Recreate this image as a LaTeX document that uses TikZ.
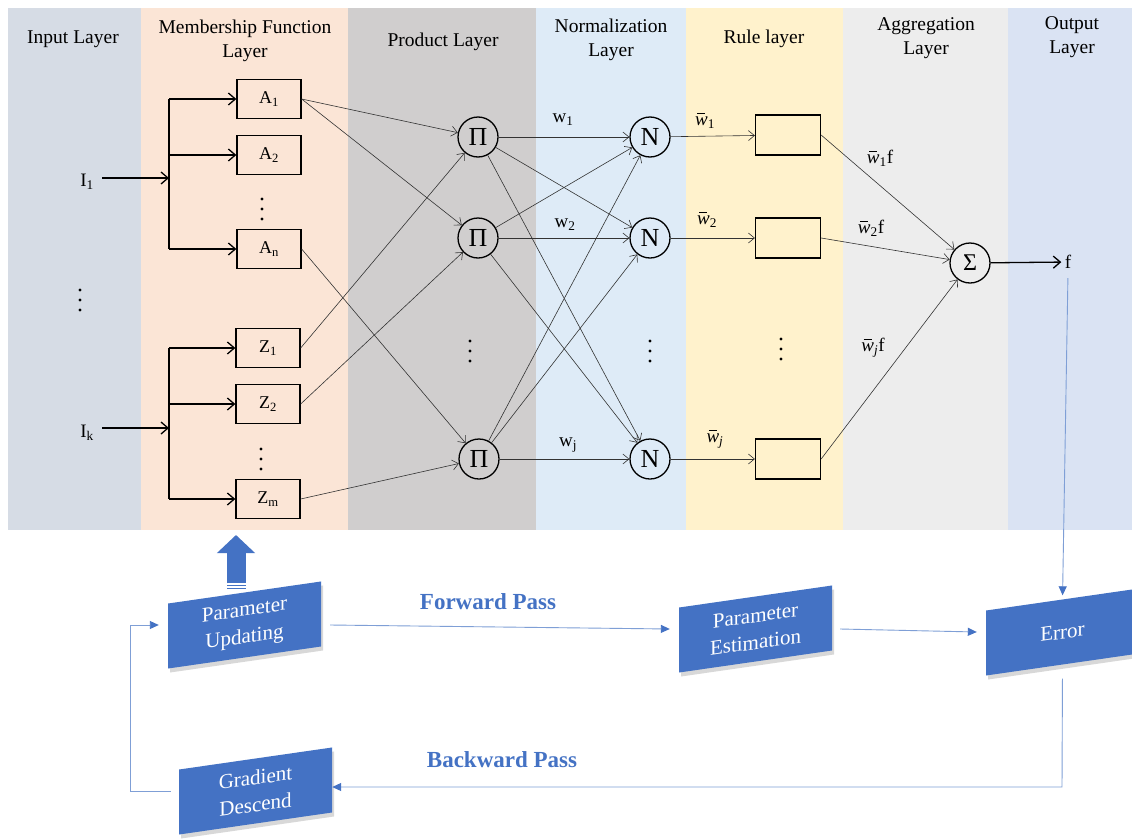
\documentclass[tikz,border=0pt]{standalone}
\usepackage{fontspec}
\setmainfont{Liberation Serif}
\usetikzlibrary{arrows.meta,shadows,calc}
\definecolor{inband}{HTML}{D6DCE5}
\definecolor{mfband}{HTML}{FBE5D6}
\definecolor{prband}{HTML}{D0CECE}
\definecolor{noband}{HTML}{DEEBF7}
\definecolor{ruband}{HTML}{FFF2CC}
\definecolor{agband}{HTML}{EDEDED}
\definecolor{ouband}{HTML}{DAE3F3}
\definecolor{boxblue}{HTML}{4472C4}
\definecolor{lineblue}{HTML}{7F9FD6}
\newcommand{\fsz}[2]{\fontsize{#1}{#2}\selectfont}
\newcommand{\wbr}[1]{\mbox{\rlap{\hspace{0.12em}\rule[0.6em]{0.42em}{0.06em}}\textit{w}\textsubscript{#1}}}
\begin{document}
\begin{tikzpicture}[x=1pt,y=-1pt,
  mfbox/.style={draw, line width=1.3pt, minimum width=64pt, minimum height=39pt, inner sep=0pt, font=\fsz{18}{20}},
  rbox/.style={draw, line width=1.3pt, minimum width=65pt, minimum height=40pt, inner sep=0pt},
  opnode/.style={circle, draw, line width=1.3pt, minimum size=40pt, inner sep=0pt, font=\fsz{26}{26}},
  netedge/.style={draw=black!80, line width=0.6pt, -{Straight Barb[length=6pt,width=10pt]}},
  thk/.style={line width=1.3pt},
  thkarrow/.style={line width=1.3pt, -{Straight Barb[length=7pt,width=12pt]}},
  hdr/.style={align=center, font=\fsz{19.5}{24}},
  lbl/.style={font=\fsz{19}{21}, inner sep=1pt},
  bluebox/.style={fill=boxblue, text=white, yslant=0.144, minimum width=153pt, minimum height=65pt, inner sep=0pt, align=center, font=\fsz{21}{27}, drop shadow={shadow xshift=2pt, shadow yshift=-4pt, opacity=0.3}},
  passlbl/.style={text=boxblue, font=\bfseries\fsz{23}{26}},
  bconn/.style={draw=lineblue, line width=0.9pt, -{Triangle[length=9pt,width=8pt,color=boxblue]}}
]
\useasboundingbox (0,0) rectangle (1132,838);
\clip (0,0) rectangle (1132,838);
\fill[white] (0,0) rectangle (1132,838);
% bands
\fill[inband] (8,8) rectangle (141,530);
\fill[mfband] (141,8) rectangle (348,530);
\fill[prband] (348,8) rectangle (536,530);
\fill[noband] (536,8) rectangle (686,530);
\fill[ruband] (686,8) rectangle (843,530);
\fill[agband] (843,8) rectangle (1008,530);
\fill[ouband] (1008,8) rectangle (1132,530);
% headers
\node[hdr] (hIn) at (73,39) {Input Layer};
\node[hdr] (hMf) at (245,41) {Membership Function\\Layer};
\node[hdr] (hPr) at (443,42) {Product Layer};
\node[hdr] (hNo) at (611,40) {Normalization\\Layer};
\node[hdr] (hRu) at (764,39) {Rule layer};
\node[hdr] (hAg) at (926,38.5) {Aggregation\\Layer};
\node[hdr] (hOu) at (1072,37) {Output\\Layer};
% vertical ellipses (drawn dots)
\foreach \nm/\x/\y in {dIn/80/300, dA/262/209, dZ/261/459, dP/470/351, dN/650/351, dR/781/349}{
  \coordinate (\nm) at (\x,\y);
  \fill (\nm) circle (1.6) ($(\nm)+(0,-10)$) circle (1.6) ($(\nm)+(0,10)$) circle (1.6);
}
% inputs
\node[font=\fsz{19}{20}] (I1) at (87,182) {I\textsubscript{1}};
\node[font=\fsz{19}{20}] (Ik) at (87,433) {I\textsubscript{k}};
% membership boxes
\node[mfbox] (A1) at (269,99) {A\textsubscript{1}};
\node[mfbox] (A2) at (269,155) {A\textsubscript{2}};
\node[mfbox] (An) at (269,249) {A\textsubscript{n}};
\node[mfbox] (Z1) at (268,348) {Z\textsubscript{1}};
\node[mfbox] (Z2) at (268,404) {Z\textsubscript{2}};
\node[mfbox] (Zm) at (268,499) {Z\textsubscript{m}};
% branch points
\coordinate (b1) at (169,178);
\coordinate (bk) at (169,428);
\draw[thkarrow] ($(I1.east |- b1)+(5,0)$) -- (b1);
\draw[thkarrow] ($(Ik.east |- bk)+(5,0)$) -- (bk);
\draw[thk] (A1.west -| b1) -- (An.west -| b1);
\draw[thk] (Z1.west -| bk) -- (Zm.west -| bk);
\draw[thkarrow] (A1.west -| b1) -- (A1);
\draw[thkarrow] (A2.west -| b1) -- (A2);
\draw[thkarrow] (An.west -| b1) -- (An);
\draw[thkarrow] (Z1.west -| bk) -- (Z1);
\draw[thkarrow] (Z2.west -| bk) -- (Z2);
\draw[thkarrow] (Zm.west -| bk) -- (Zm);
% product nodes
\node[opnode] (P1) at (478,137) {Π};
\node[opnode] (P2) at (478,238) {Π};
\node[opnode] (P3) at (479,459) {Π};
% normalization nodes
\node[opnode] (N1) at (650,137) {N};
\node[opnode] (N2) at (650,238) {N};
\node[opnode] (N3) at (650,459) {N};
% rule boxes
\node[rbox] (R1) at (788,135) {};
\node[rbox] (R2) at (788,238) {};
\node[rbox] (R3) at (788,459) {};
% sum and output
\node[opnode, font=\fsz{24}{24}] (S) at (970,263) {Σ};
\node[font=\fsz{19}{20}] (f) at (1068,262) {f};
% MF -> product
\draw[netedge] (A1.east) -- (P1);
\draw[netedge] (A1.east) -- (P2);
\draw[netedge] (An.east) -- (P3);
\draw[netedge] (Z1.east) -- (P1);
\draw[netedge] (Z2.east) -- (P2);
\draw[netedge] (Zm.east) -- (P3);
% product -> normalization
\foreach \p in {P1,P2,P3}{
  \foreach \n in {N1,N2,N3}{
    \draw[netedge] (\p) -- (\n);
  }
}
% normalization -> rule
\draw[netedge] (N1) -- (R1);
\draw[netedge] (N2) -- (R2);
\draw[netedge] (N3) -- (R3);
% rule -> sum
\draw[netedge] (R1.east) -- (S);
\draw[netedge] (R2.east) -- (S);
\draw[netedge] (R3.east) -- (S);
\draw[thkarrow] (S) -- (f);
% labels
\node[lbl] (lw1) at (563,120) {w\textsubscript{1}};
\node[lbl] (lw2) at (565,225) {w\textsubscript{2}};
\node[lbl] (lwj) at (568,445) {w\textsubscript{j}};
\node[lbl] (lb1) at (705,121) {\wbr{1}};
\node[lbl] (lb2) at (707,220) {\wbr{2}};
\node[lbl] (lbj) at (715,439) {\wbr{\textit{j}}};
\node[lbl] (lf1) at (880,158) {\wbr{1}f};
\node[lbl] (lf2) at (871,228) {\wbr{2}f};
\node[lbl] (lfj) at (873,348) {\wbr{\textit{j}}f};
% bottom loop
\node[bluebox] (pu) at (244.5,625) {Parameter\\Updating};
\node[bluebox] (pe) at (755.5,629) {Parameter\\Estimation};
\node[bluebox] (err) at (1062.5,632) {Error};
\node[bluebox] (gd) at (255.5,791) {Gradient\\Descend};
\node[passlbl] (fp) at (488,602) {Forward Pass};
\node[passlbl] (bp) at (502,760) {Backward Pass};
% thick update arrow
\coordinate (uptip) at (236,535);
\draw[boxblue, line width=19pt, -{Triangle[length=18pt,width=37pt]}] ($(pu.north)+(-8.5,-9)$) -- (uptip);
\fill[boxblue] (226.5,585) rectangle (245.5,586.4);
\fill[boxblue] (226.5,587.8) rectangle (245.5,589.3);
% connectors
\draw[bconn] ($(pu.center -| pu.east)+(9,0)$) -- ($(pe.center -| pe.west)+(-9,0)$);
\draw[bconn] ($(pe.center -| pe.east)+(8,0)$) -- ($(err.center -| err.west)+(-9,0)$);
\draw[bconn, shorten <=6pt, shorten >=4pt] (f.south) -- (err.north);
\coordinate (bkc) at (1062,787);
\draw[bconn, shorten <=14pt] (err.south) -- (bkc) -- (gd.east |- bkc);
\coordinate (lb) at (130,791);
\coordinate (lt) at (130,625);
\draw[bconn] ($(gd.center -| gd.west)+(-8,0)$) -- (lb) -- (lt) -- ($(pu.center -| pu.west)+(-9,0)$);
\end{tikzpicture}
\end{document}
